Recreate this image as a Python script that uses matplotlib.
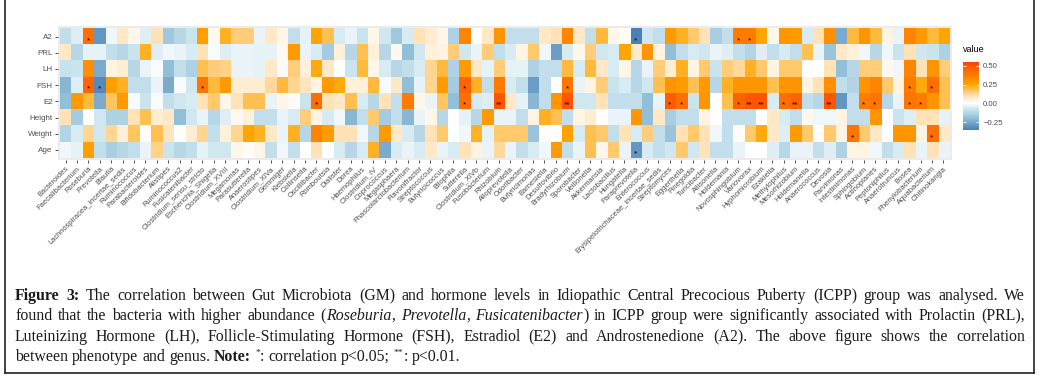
import re
import numpy as np
import matplotlib
matplotlib.use('Agg')
import matplotlib.pyplot as plt
from matplotlib.colors import LinearSegmentedColormap, Normalize
from matplotlib.transforms import IdentityTransform
from matplotlib.lines import Line2D
import matplotlib.colorbar as mcolorbar

plt.rcParams['font.family'] = ['Liberation Sans', 'DejaVu Sans']

genera = ['Bacteroides', 'Faecalibacterium', 'Roseburia', 'Prevotella', 'Blautia',
          'Lachnospiracea_incertae_sedis', 'Ruminococcus', 'Parabacteroides', 'Bifidobacterium',
          'Alistipes', 'Ruminococcus2', 'Fusicatenibacter', 'Clostridium_sensu_stricto',
          'Escherichia_Shigella', 'Clostridium_XVIII', 'Megamonas', 'Parasutterella', 'Anaerostipes',
          'Clostridium_XlVa', 'Gemmiger', 'Klebsiella', 'Collinsella', 'Oscillibacter', 'Romboutsia',
          'Dialister', 'Dorea', 'Haemophilus', 'Clostridium_IV', 'Coprococcus', 'Megasphaera',
          'Phascolarctobacterium', 'Flavonifractor', 'Streptococcus', 'Butyricicoccus', 'Bilophila',
          'Sutterella', 'Clostridium_XlVb', 'Fusobacterium', 'Rhizobium', 'Alloprevotella',
          'Odoribacter', 'Butyricimonas', 'Barnesiella', 'Desulfovibrio', 'Bradyrhizobium',
          'Sporobacter', 'Veillonella', 'Akkermansia', 'Lactobacillus', 'Hungatella',
          'Paraprevotella', 'Enterococcus', 'Erysipelotrichaceae_incertae_sedis', 'Streptomyces',
          'Eggerthella', 'Finegoldia', 'Turicibacter', 'Allisonella', 'Holdemania',
          'Novosphingobium', 'Variovorax', 'Hyphomicrobium', 'Ezakiella', 'Methylophilus',
          'Mesorhizobium', 'Holdemanella', 'Anaerococcus', 'Devosia', 'Parvimonas',
          'Intestinimonas', 'Sphingobium', 'Actinoplanes', 'Peptoniphilus', 'Anaerotruncus',
          'Bosea', 'Phenylobacterium', 'Aquabacterium', 'Chitinokangia']

traits = ['A2', 'PRL', 'LH', 'FSH', 'E2', 'Height', 'Weight', 'Age']

a2 = [-0.1, -0.05, 0.42, -0.3, -0.02, 0.08, 0.03, -0.05, 0.1, -0.17, -0.12, -0.08, 0.27, 0.02, 0.22, 0.15, 0.15,
      -0.03, 0.08, 0.03, -0.1, -0.04, 0.25, 0.18, -0.06, -0.03, -0.08, 0.03, -0.07, -0.17, -0.06, 0.1, 0.06, 0.03, -0.14, 0.35, 0.0, 0.08, 0.3,
      -0.1, -0.1, -0.1, 0.08, 0.1, 0.35, 0.08, -0.1, 0.2, 0.03, 0.01, -0.35, -0.07, -0.1, 0.28, 0.22, 0.16, 0.1, -0.15, -0.1, 0.38,
      0.38, 0.25, 0.03, 0.3, 0.28, -0.06, 0.1, 0.32, -0.25, 0.2, 0.3, 0.2, 0.04, -0.03, 0.35, 0.28, 0.2, 0.25]
prl = [0.08, -0.12, -0.04, -0.04, -0.1, -0.12, -0.08, 0.22, -0.05, -0.02, -0.03, -0.06, 0.1, -0.01, -0.05, -0.03, -0.03,
       -0.04, -0.04, 0.02, 0.28, -0.03, -0.06, -0.16, 0.05, -0.12, 0.18, 0.05, -0.12, 0.02, -0.2, -0.07, 0.05, 0.04, 0.15, -0.07, -0.03, 0.15, -0.1,
       -0.06, 0.04, 0.16, -0.02, -0.28, -0.06, 0.03, 0.15, -0.07, -0.06, 0.25, 0.07, 0.3, 0.04, -0.2, -0.1, -0.06, -0.07, -0.03, -0.05, -0.1,
       -0.13, -0.05, -0.1, -0.06, -0.1, 0.18, -0.03, -0.18, 0.08, 0.05, -0.02, -0.12, -0.02, -0.08, 0.1, -0.07, -0.08, -0.14]
lh = [-0.09, -0.08, 0.32, -0.25, 0.04, 0.06, -0.12, -0.03, -0.01, -0.2, -0.1, -0.14, 0.18, 0.15, 0.14, -0.03, -0.03,
      -0.04, 0.08, -0.01, 0.15, 0.05, 0.24, 0.08, 0.0, -0.08, 0.2, 0.03, -0.06, -0.12, -0.1, -0.06, 0.13, 0.2, -0.14, 0.28, 0.08, -0.04, 0.15,
      -0.04, -0.04, -0.14, -0.1, -0.1, 0.2, -0.06, 0.2, 0.08, -0.06, 0.03, -0.12, -0.03, 0.15, 0.06, 0.22, 0.04, 0.16, -0.08, 0.15, 0.12,
      0.22, 0.16, 0.04, 0.16, 0.16, 0.0, 0.0, 0.1, -0.2, -0.12, 0.15, 0.15, 0.02, -0.02, 0.35, 0.1, 0.3, 0.15]
fsh = [-0.22, -0.05, 0.45, -0.33, 0.27, 0.22, -0.1, -0.1, -0.03, -0.25, -0.01, -0.07, 0.4, 0.2, 0.28, 0.06, 0.06,
       0.06, 0.12, 0.2, 0.13, 0.09, 0.04, 0.28, 0.24, 0.05, 0.05, 0.2, -0.01, 0.08, -0.2, -0.04, 0.13, 0.28, -0.16, 0.45, 0.22, -0.1, 0.38,
       -0.06, -0.1, -0.28, -0.1, 0.0, 0.4, -0.03, 0.04, 0.15, -0.08, -0.06, -0.12, -0.07, 0.18, 0.3, 0.28, 0.18, 0.28, -0.12, 0.22, 0.3,
       0.3, 0.3, 0.18, 0.3, 0.3, 0.04, 0.1, 0.32, -0.1, -0.13, 0.3, 0.35, 0.16, 0.04, 0.38, 0.24, 0.42, 0.18]
e2 = [-0.2, 0.28, 0.2, -0.25, 0.17, 0.28, -0.01, -0.08, -0.01, -0.1, -0.07, -0.06, 0.1, 0.16, 0.03, 0.1, 0.18,
      0.18, -0.03, 0.03, 0.01, -0.08, 0.42, 0.1, 0.08, 0.18, -0.06, -0.12, 0.1, -0.1, 0.38, 0.03, -0.03, 0.17, -0.2, 0.42, -0.06, -0.05, 0.5,
      0.08, -0.04, -0.22, -0.1, 0.3, 0.5, -0.07, -0.07, 0.1, -0.1, -0.1, -0.1, -0.2, -0.03, 0.48, 0.42, -0.08, 0.3, 0.0, 0.18, 0.45,
      0.5, 0.5, -0.06, 0.42, 0.45, -0.1, -0.12, 0.5, -0.3, -0.1, 0.38, 0.4, -0.12, -0.03, 0.4, 0.38, 0.3, 0.18]
height = [0.1, -0.16, 0.0, -0.07, -0.14, -0.14, 0.1, 0.18, 0.06, 0.08, -0.2, -0.07, -0.03, -0.12, -0.05, 0.02, 0.05,
          -0.1, -0.1, -0.03, -0.06, 0.15, 0.04, -0.06, -0.02, -0.22, -0.1, 0.16, -0.16, -0.1, -0.22, -0.03, 0.03, -0.12, 0.0, -0.04, -0.12, 0.28, -0.03,
          -0.03, -0.1, 0.04, 0.22, 0.18, -0.1, 0.04, 0.06, 0.0, -0.03, -0.03, 0.3, -0.2, 0.08, -0.15, -0.1, -0.1, 0.04, 0.0, -0.1, -0.1,
          -0.1, 0.0, 0.08, -0.06, -0.1, 0.02, -0.02, -0.02, 0.04, -0.1, -0.1, 0.3, 0.0, -0.08, -0.05, 0.1, 0.1, -0.04]
weight = [-0.13, -0.06, 0.13, -0.07, 0.13, 0.05, 0.17, 0.01, 0.18, 0.09, 0.0, 0.06, 0.13, -0.1, 0.05, 0.13, 0.25,
          0.22, 0.08, -0.03, 0.22, -0.12, 0.35, 0.28, 0.1, 0.1, -0.02, -0.12, 0.28, 0.08, -0.06, -0.12, 0.1, 0.16, 0.0, -0.02, 0.22, -0.04, 0.16,
          0.16, 0.16, -0.18, 0.0, 0.0, 0.26, -0.06, 0.18, 0.16, -0.1, 0.1, -0.06, 0.15, -0.1, -0.18, 0.1, 0.16, 0.1, -0.02, -0.1, 0.0,
          0.16, 0.24, 0.08, -0.05, 0.28, 0.16, 0.0, 0.16, 0.04, 0.4, 0.16, 0.08, 0.0, 0.3, 0.3, 0.04, 0.42, 0.08]
age = [-0.02, -0.04, 0.27, -0.1, -0.15, -0.12, -0.1, -0.03, 0.14, -0.08, -0.12, -0.1, -0.04, -0.07, -0.07, 0.03, 0.01,
       0.03, -0.1, -0.02, -0.1, 0.0, 0.1, 0.0, -0.06, -0.12, -0.06, 0.22, -0.25, -0.06, -0.03, -0.06, 0.08, -0.03, -0.06, 0.1, 0.04, -0.03, 0.12,
       -0.03, -0.1, -0.06, -0.02, 0.28, -0.1, -0.03, 0.18, 0.03, 0.16, -0.03, -0.3, -0.06, -0.1, -0.07, 0.16, -0.07, 0.1, -0.1, -0.1, -0.03,
       0.0, 0.0, -0.05, -0.12, -0.03, -0.03, -0.1, -0.05, -0.14, 0.04, 0.04, -0.02, -0.1, -0.06, 0.1, -0.03, 0.1, -0.03]

# significance marks
star_rows = ['A2'] * 4 + ['FSH'] * 7 + ['E2'] * 16 + ['Weight'] * 2 + ['Age']
star_cols = [2, 50, 59, 60,
             2, 3, 12, 35, 44, 74, 76,
             22, 35, 38, 44, 53, 54, 59, 60, 61, 63, 64, 67, 70, 71, 74, 75,
             69, 76,
             50]
star_marks = ['*'] * 4 + ['*'] * 7 + \
             ['*', '*', '**', '**', '*', '*', '*', '**', '**', '*', '**', '**', '*', '*', '*', '*'] + \
             ['*', '*'] + ['*']

vmin, vmax = -0.357, 0.553
stops = [(-0.357, '#4A7FB6'), (-0.2, '#92BFD8'), (-0.08, '#CBE5EE'), (0.0, '#FFFFFF'),
         (0.1, '#FFE2B6'), (0.25, '#FFA500'), (0.553, '#FF4500')]
cmap = LinearSegmentedColormap.from_list('corr', [((v - vmin) / (vmax - vmin), c) for v, c in stops])
norm = Normalize(vmin, vmax)

W, H = 1040, 380
fig = plt.figure(figsize=(W / 100, H / 100), dpi=100)

def px_axes(x0, y0, x1, y1):
    return fig.add_axes([x0 / W, 1 - y1 / H, (x1 - x0) / W, (y1 - y0) / H])

# heatmap panel (grey ggplot background shows as thin margin)
mx, my = 2.5 / 11.4, 2.5 / 16.2
ax = px_axes(57.5, 26, 951.5, 160.5)
ax.set_facecolor('#EBEBEB')
vals = np.array([a2, prl, lh, fsh, e2, height, weight, age])
ax.imshow(vals, cmap=cmap, norm=norm, aspect='auto', interpolation='nearest',
          extent=(-0.5, len(genera) - 0.5, len(traits) - 0.5, -0.5))
ax.set_xlim(-0.5 - mx, len(genera) - 0.5 + mx)
ax.set_ylim(len(traits) - 0.5 + my, -0.5 - my)
for r, c, m in zip(star_rows, star_cols, star_marks):
    ax.text(c, traits.index(r) + 0.33, m, ha='center', va='baseline', fontsize=6, color='black')

for s in ax.spines.values():
    s.set_visible(False)
ax.set_xticks(range(len(genera)))
ax.set_xticklabels(genera, rotation=45, ha='right', rotation_mode='anchor',
                   fontsize=5.4, color='#4D4D4D')
ax.set_yticks(range(len(traits)))
ax.set_yticklabels(traits, fontsize=5.8, color='#4D4D4D')
ax.tick_params(length=2, width=0.6, color='#333333', pad=1.5)

# legend
fig.text(963 / W, 1 - 52 / H, 'value', fontsize=6.5, color='black', ha='left', va='baseline')
cax = px_axes(963, 62, 979, 130)
cb = mcolorbar.ColorbarBase(cax, cmap=cmap, norm=norm, ticks=[-0.25, 0, 0.25, 0.5])
cb.outline.set_visible(False)
cax.set_yticklabels(['\u22120.25', '0.00', '0.25', '0.50'])
cax.tick_params(direction='in', length=2.5, width=0.6, colors='white', labelcolor='#4D4D4D',
                labelsize=5.6, pad=3, left=True, right=True)

# caption
cap_lines = [
    "<b>Figure 3:</b> The correlation between Gut Microbiota (GM) and hormone levels in Idiopathic Central Precocious Puberty (ICPP) group was analysed. We",
    "found that the bacteria with higher abundance (<i>Roseburia</i>, <i>Prevotella</i>, <i>Fusicatenibacter</i>) in ICPP group were significantly associated with Prolactin (PRL),",
    "Luteinizing Hormone (LH), Follicle-Stimulating Hormone (FSH), Estradiol (E2) and Androstenedione (A2). The above figure shows the correlation",
    "between phenotype and genus. <b>Note:</b> <s>*</s>: correlation p<0.05; <s>**</s>: p<0.01.",
]
cap_base = [300, 320, 341, 361]
cap_size = 11.4
x_left, x_right = 15, 1025
renderer = fig.canvas.get_renderer()

def words_of(line):
    words = [[]]
    bold = ital = sup = False
    for tok in re.split(r'(</?[bis]>)', line):
        if tok in ('<b>', '</b>'):
            bold = tok == '<b>'
            continue
        if tok in ('<i>', '</i>'):
            ital = tok == '<i>'
            continue
        if tok in ('<s>', '</s>'):
            sup = tok == '<s>'
            continue
        for j, p in enumerate(tok.split(' ')):
            if j > 0:
                words.append([])
            if p:
                words[-1].append((p, bold, ital, sup))
    return [w for w in words if w]

def cap_text(s, b=False, it=False, sp=False):
    return fig.text(0, 0, s, transform=IdentityTransform(), family=['Liberation Serif', 'DejaVu Serif'],
                    fontsize=cap_size * (0.6 if sp else 1.0), weight='bold' if b else 'normal',
                    style='italic' if it else 'normal', ha='left', va='baseline', color='#1a1a1a')

tmp1, tmp2 = cap_text('a a'), cap_text('aa')
space_w = tmp1.get_window_extent(renderer).width - tmp2.get_window_extent(renderer).width
tmp1.remove()
tmp2.remove()

for li, line in enumerate(cap_lines):
    y = H - cap_base[li]
    placed = []
    total = 0
    for w in words_of(line):
        items, ww = [], 0
        for txt, b, it, sp in w:
            t = cap_text(txt, b, it, sp)
            items.append((t, ww, sp))
            ww += t.get_window_extent(renderer).width
        placed.append((items, ww))
        total += ww
    if li < len(cap_lines) - 1:
        gap = (x_right - x_left - total) / (len(placed) - 1)
    else:
        gap = space_w
    x = x_left
    for items, ww in placed:
        for t, off, sp in items:
            t.set_position((x + off, y + (6 if sp else 0)))
        x += ww + gap

# page frame
for xs, ys in [([5, 5], [0, 373]), ([5, 1034], [373, 373]), ([1034, 1034], [0, 373])]:
    fig.add_artist(Line2D([x / W for x in xs], [1 - y / H for y in ys], transform=fig.transFigure,
                          color='#222222', lw=1.2))

fig.savefig('out.png', dpi=100)
